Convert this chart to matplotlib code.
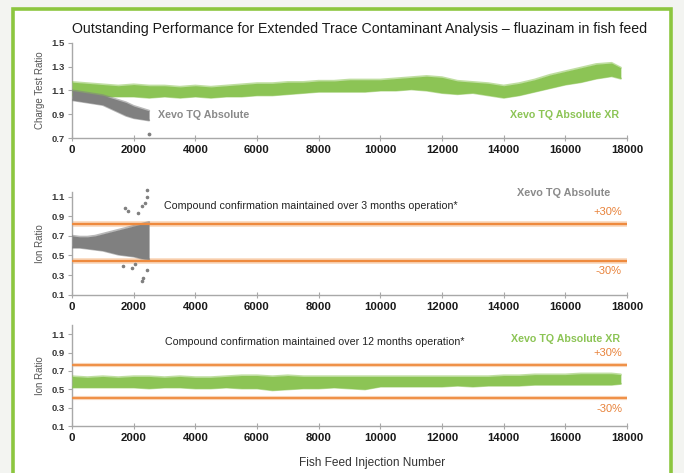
import matplotlib
matplotlib.use("Agg")
import matplotlib.pyplot as plt
from matplotlib.patches import Rectangle

plt.rcParams['font.family'] = ['Liberation Sans', 'DejaVu Sans']

# ---------------- data ----------------
# Panel 1: charge test ratio, Xevo TQ Absolute XR (green band envelope)
xr_x = [0, 500, 1000, 1500, 2000, 2500, 3000, 3500, 4000, 4500, 5000, 5500,
        6000, 6500, 7000, 7500, 8000, 8500, 9000, 9500, 10000, 10500, 11000,
        11500, 12000, 12500, 13000, 13500, 14000, 14500, 15000, 15500, 16000,
        16500, 17000, 17500, 17800]
xr_ct_low = [1.06, 1.06, 1.05, 1.05, 1.05, 1.04, 1.05, 1.04, 1.05, 1.04, 1.05, 1.05,
             1.06, 1.06, 1.07, 1.08, 1.09, 1.09, 1.09, 1.09, 1.10, 1.10, 1.11,
             1.10, 1.08, 1.07, 1.08, 1.06, 1.04, 1.06, 1.09, 1.12, 1.15,
             1.17, 1.20, 1.22, 1.20]
xr_ct_high = [1.17, 1.16, 1.15, 1.14, 1.15, 1.14, 1.14, 1.13, 1.14, 1.13, 1.14, 1.15,
              1.16, 1.16, 1.17, 1.17, 1.18, 1.18, 1.19, 1.19, 1.19, 1.20, 1.21,
              1.22, 1.21, 1.18, 1.17, 1.16, 1.14, 1.16, 1.19, 1.23, 1.26,
              1.29, 1.32, 1.33, 1.29]

# Panel 1: Xevo TQ Absolute (grey band envelope)
tq_x = [0, 250, 500, 750, 1000, 1250, 1500, 1750, 2000, 2250, 2500]
tq_ct_low = [1.02, 1.01, 1.00, 0.99, 0.98, 0.95, 0.92, 0.89, 0.87, 0.86, 0.85]
tq_ct_high = [1.10, 1.09, 1.08, 1.07, 1.06, 1.04, 1.02, 1.00, 0.97, 0.95, 0.93]
tq_ct_out_x = [2500]
tq_ct_out_y = [0.74]

# Panel 2: ion ratio, Xevo TQ Absolute (grey band envelope + outliers)
tq_ir_low = [0.58, 0.58, 0.57, 0.56, 0.55, 0.53, 0.51, 0.50, 0.49, 0.47, 0.46]
tq_ir_high = [0.70, 0.69, 0.69, 0.70, 0.72, 0.74, 0.76, 0.78, 0.80, 0.82, 0.84]
tq_ir_out_x = [2430, 2370, 2260, 1720, 1830, 1670, 1940, 2310, 2430, 2050, 2150, 2430, 2260]
tq_ir_out_y = [1.17, 1.03, 1.00, 0.98, 0.95, 0.39, 0.37, 0.27, 0.35, 0.41, 0.93, 1.10, 0.24]
tq_limits = [0.82, 0.44]

# Panel 3: ion ratio, Xevo TQ Absolute XR (green band envelope)
xr_ir_low = [0.52, 0.52, 0.52, 0.52, 0.52, 0.51, 0.52, 0.52, 0.51, 0.51, 0.52, 0.51,
             0.51, 0.49, 0.50, 0.51, 0.51, 0.52, 0.51, 0.50, 0.53, 0.53, 0.53,
             0.53, 0.53, 0.54, 0.53, 0.54, 0.54, 0.54, 0.55, 0.55, 0.55,
             0.55, 0.55, 0.55, 0.56]
xr_ir_high = [0.64, 0.63, 0.64, 0.63, 0.64, 0.64, 0.63, 0.64, 0.63, 0.63, 0.64, 0.65,
              0.65, 0.64, 0.65, 0.64, 0.64, 0.64, 0.64, 0.64, 0.64, 0.64, 0.64,
              0.64, 0.64, 0.64, 0.64, 0.64, 0.65, 0.65, 0.66, 0.66, 0.66,
              0.67, 0.67, 0.67, 0.66]
xr_limits = [0.76, 0.41]

x_ticks = [0, 2000, 4000, 6000, 8000, 10000, 12000, 14000, 16000, 18000]
ct_ticks = [0.7, 0.9, 1.1, 1.3, 1.5]
ir_ticks = [0.1, 0.3, 0.5, 0.7, 0.9, 1.1]

GREEN = '#8cc455'
GREY = '#808080'
ORANGE = '#ee8a3e'
ORANGE_TXT = '#e8823a'

# ---------------- figure ----------------
fig = plt.figure(figsize=(6.84, 4.73), dpi=100)
fig.patch.set_facecolor('#f3f4f1')
frame = Rectangle((13 / 684, -0.05), (671 - 13) / 684, 1.05 - 9 / 473,
                  transform=fig.transFigure, facecolor='white',
                  edgecolor='#8cc63f', linewidth=2.6, zorder=-10)
fig.patches.append(frame)

left = 72 / 684
width = 555 / 684
ax1 = fig.add_axes([left, 1 - 138.3 / 473, width, (138.3 - 42.7) / 473])
ax2 = fig.add_axes([left, 1 - 294.7 / 473, width, (294.7 - 191.7) / 473])
ax3 = fig.add_axes([left, 1 - 426 / 473, width, (426 - 325) / 473])


def style(ax, ylim, yticks, ylabel):
    ax.patch.set_visible(False)
    ax.set_zorder(1)
    ax.set_xlim(0, 18000)
    ax.set_ylim(*ylim)
    ax.set_xticks(x_ticks)
    ax.set_yticks(yticks)
    ax.set_yticklabels([f'{v:.1f}' for v in yticks])
    for s in ['top', 'right']:
        ax.spines[s].set_visible(False)
    for s in ['left', 'bottom']:
        ax.spines[s].set_color('#a8a8a8')
        ax.spines[s].set_linewidth(1.0)
    ax.tick_params(axis='x', direction='inout', length=4, color='#a8a8a8',
                   labelsize=8.2, pad=3, labelcolor='#1a1a1a')
    ax.tick_params(axis='y', direction='out', length=3, color='#a8a8a8',
                   labelsize=6.8, pad=2, labelcolor='#3a3a3a')
    for lab in ax.get_xticklabels() + ax.get_yticklabels():
        lab.set_fontweight('bold')
    ax.set_ylabel(ylabel, fontsize=7, color='#555555', labelpad=5)


def band(ax, x, lo, hi, color):
    ax.fill_between(x, lo, hi, color=color, linewidth=0, zorder=3)
    ax.plot(x, lo, '-', lw=1.6, color=color, alpha=0.55, zorder=3,
            solid_capstyle='round')
    ax.plot(x, hi, '-', lw=1.6, color=color, alpha=0.55, zorder=3,
            solid_capstyle='round')


# Panel 1
style(ax1, (0.7, 1.5), ct_ticks, 'Charge Test Ratio')
band(ax1, xr_x, xr_ct_low, xr_ct_high, GREEN)
band(ax1, tq_x, tq_ct_low, tq_ct_high, GREY)
ax1.scatter(tq_ct_out_x, tq_ct_out_y, s=3, color=GREY, zorder=4)
ax1.text(2790, 0.895, 'Xevo TQ Absolute', color='#8a8a8a', fontsize=7.7,
         fontweight='bold', va='center', ha='left')
ax1.text(17760, 0.895, 'Xevo TQ Absolute XR', color=GREEN, fontsize=7.7,
         fontweight='bold', va='center', ha='right')

# Panel 2
style(ax2, (0.1, 1.15), ir_ticks, 'Ion Ratio')
for lim in tq_limits:
    ax2.axhline(lim, xmin=0, xmax=1, color='#f9d5b8', lw=4, zorder=1)
    ax2.axhline(lim, xmin=0, xmax=1, color=ORANGE, lw=1.6, zorder=5)
band(ax2, tq_x, tq_ir_low, tq_ir_high, GREY)
ax2.scatter(tq_ir_out_x, tq_ir_out_y, s=2.5, color=GREY, zorder=4, clip_on=False)
ax2.text(3000, 1.0, 'Compound confirmation maintained over 3 months operation*',
         color='#222222', fontsize=7.7, va='center', ha='left')
ax2.text(17450, 1.135, 'Xevo TQ Absolute', color='#8a8a8a', fontsize=7.8,
         fontweight='bold', va='center', ha='right', clip_on=False)
ax2.text(17830, 0.947, '+30%', color=ORANGE_TXT, fontsize=8, va='center', ha='right')
ax2.text(17830, 0.345, '-30%', color=ORANGE_TXT, fontsize=8, va='center', ha='right')

# Panel 3
style(ax3, (0.1, 1.2), ir_ticks, 'Ion Ratio')
for lim in xr_limits:
    ax3.axhline(lim, xmin=0, xmax=1, color='#f9d5b8', lw=3, zorder=1)
    ax3.axhline(lim, xmin=0, xmax=1, color=ORANGE, lw=1.3, zorder=5)
band(ax3, xr_x, xr_ir_low, xr_ir_high, GREEN)
ax3.text(3030, 1.01, 'Compound confirmation maintained over 12 months operation*',
         color='#222222', fontsize=7.7, va='center', ha='left')
ax3.text(17780, 1.05, 'Xevo TQ Absolute XR', color=GREEN, fontsize=7.7,
         fontweight='bold', va='center', ha='right')
ax3.text(17840, 0.90, '+30%', color=ORANGE_TXT, fontsize=8, va='center', ha='right')
ax3.text(17840, 0.29, '-30%', color=ORANGE_TXT, fontsize=8, va='center', ha='right')

fig.text(372 / 684, 1 - 463 / 473, 'Fish Feed Injection Number', fontsize=8.6,
         color='#333333', ha='center', va='center')

fig.text(360 / 684, 1 - 29 / 473,
         'Outstanding Performance for Extended Trace Contaminant Analysis \u2013 fluazinam in fish feed',
         fontsize=10.15, color='#1a1a1a', ha='center', va='center')

fig.savefig('out.png', dpi=100, facecolor=fig.get_facecolor())
